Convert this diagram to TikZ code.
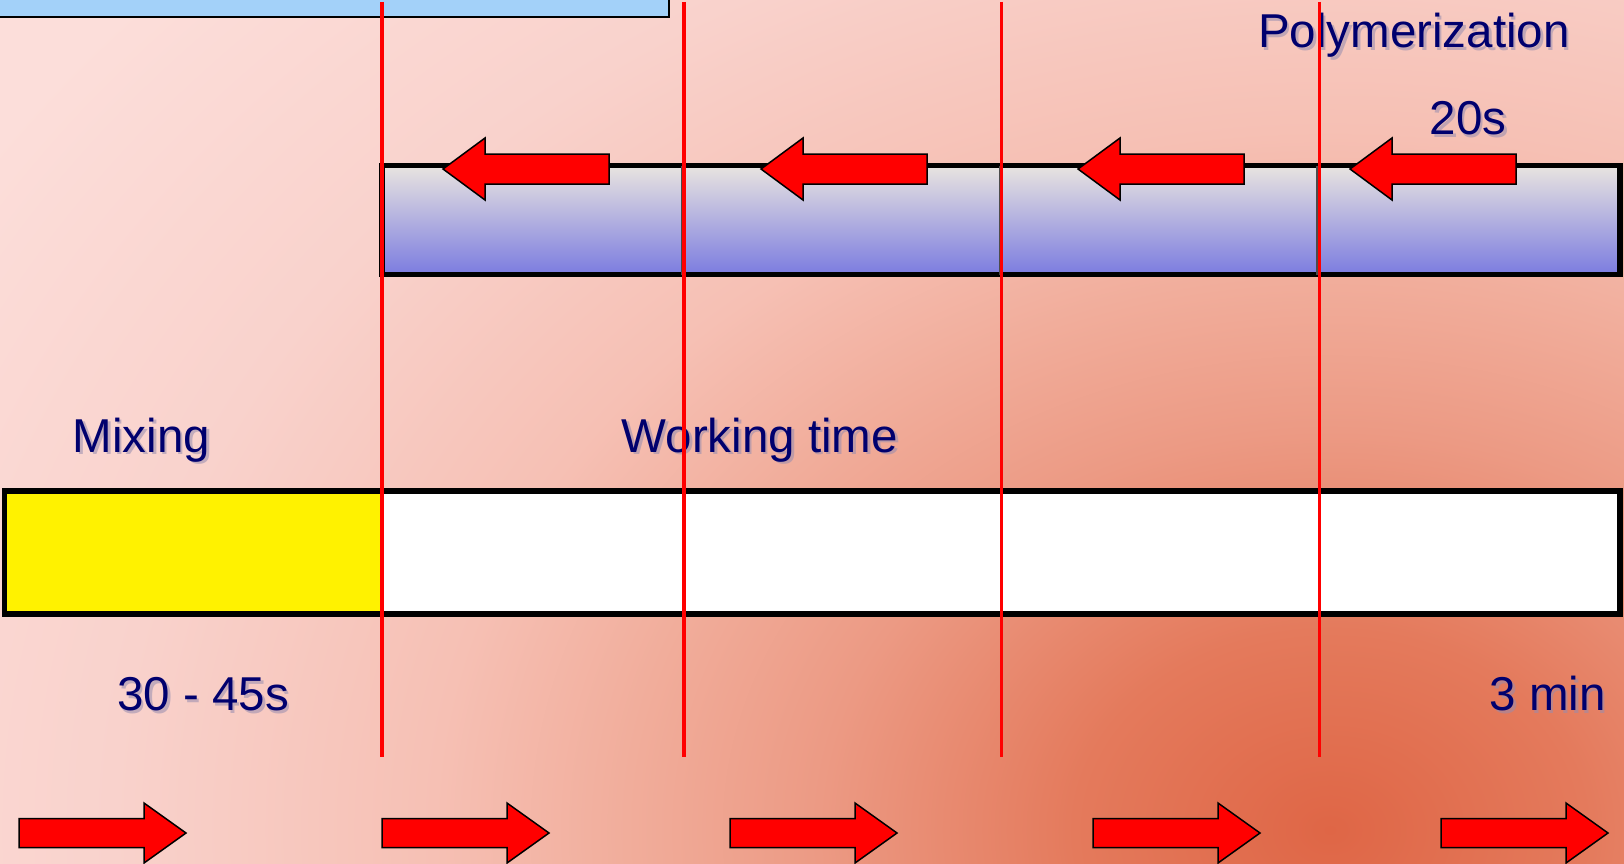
\documentclass[tikz,border=0pt]{standalone}
\usepackage{fontspec}
\setmainfont{Liberation Sans}
\definecolor{bgA}{HTML}{DF6646}
\definecolor{bgB}{HTML}{E47A5C}
\definecolor{bgC}{HTML}{EC9A84}
\definecolor{bgD}{HTML}{F1AD9B}
\definecolor{bgE}{HTML}{F6C0B4}
\definecolor{bgF}{HTML}{F9D2CC}
\definecolor{bgG}{HTML}{FCDEDA}
\definecolor{navytxt}{RGB}{0,0,110}
\definecolor{shadowtxt}{RGB}{150,140,175}
\definecolor{boxblue}{HTML}{A3D1F9}
\definecolor{barTop}{HTML}{E8E4E0}
\definecolor{barMid}{HTML}{C4C0E2}
\definecolor{barBot}{HTML}{7C7CE0}
\pgfdeclareradialshading{bgshade}{\pgfpointorigin}{color(0bp)=(bgA); color(4bp)=(bgB); color(8bp)=(bgC); color(11bp)=(bgD); color(14bp)=(bgE); color(19bp)=(bgF); color(25bp)=(bgG); color(50bp)=(bgG)}
\usetikzlibrary{calc}
\tikzset{
  arrowshape/.style={fill=red, draw=black, line width=1.5pt, line join=miter},
  barbox/.style={draw=black, line width=5.5pt, rectangle, inner sep=0pt, outer sep=0pt, anchor=north west},
  timeline/.style={draw=red, line width=3.2pt},
  divider/.style={draw=black!70, line width=1.5pt},
  lbl/.style={text=navytxt, inner sep=0pt, font=\fontsize{47.5}{57}\selectfont},
  lblsh/.style={lbl, text=shadowtxt, text opacity=0.55},
  pics/rarr/.style={code={\draw[arrowshape] (0,-14.5) -- (125,-14.5) -- (125,-30) -- (167,0) -- (125,30) -- (125,14.5) -- (0,14.5) -- cycle;}},
  pics/larr/.style={code={\draw[arrowshape] (0,0) -- (42,-31) -- (42,-15) -- (166,-15) -- (166,15) -- (42,15) -- (42,31) -- cycle;}}
}
\newcommand{\shtext}[4]{%
  \node[lblsh, anchor=#3] (#1-sh) at ($(#2)+(2.5,2.5)$) {#4};
  \node[lbl, anchor=#3] (#1) at (#2) {#4};}
\begin{document}
\begin{tikzpicture}[x=1pt, y=-1pt]
\useasboundingbox (0,0) rectangle (1624,864);
% background
\fill[bgG] (0,0) rectangle (1624,864);
\begin{scope}
  \clip (0,0) rectangle (1624,864);
  \shade[shading=bgshade] (1330,830) ellipse [x radius=1600pt, y radius=1250pt];
\end{scope}
% top-left box (cut off)
\draw[fill=boxblue, line width=2.5pt] (-5,-5) rectangle (669,17);
% top bar
\node[barbox, minimum width=1238pt, minimum height=109pt, top color=barTop, middle color=barMid, bottom color=barBot] (topbar) at (382,165.5) {};
\draw[divider] (682,165.5) -- (682,274.5);
\draw[divider] (999.5,165.5) -- (999.5,274.5);
\draw[divider] (1317,165.5) -- (1317,274.5);
% bottom bar
\node[barbox, minimum width=1615.5pt, minimum height=123pt, fill=white, draw=none] (botbar) at (4.5,491) {};
\fill[yellow] (4.5,491) rectangle (382,614);
\draw[black, line width=5.5pt] (botbar.north west) rectangle (botbar.south east);
% top arrows
\pic at (443,169) {larr};
\pic at (761,169) {larr};
\pic at (1078,169) {larr};
\pic at (1350,169) {larr};
% bottom arrows
\pic at (19,833) {rarr};
\pic at (382,833) {rarr};
\pic at (730,833) {rarr};
\pic at (1093,833) {rarr};
\pic at (1441,833) {rarr};
% labels
\shtext{poly}{1258,48}{base west}{Polymerization}
\shtext{twenty}{1468,135}{base}{20s}
\shtext{mix}{72.5,452}{base west}{Mixing}
\shtext{work}{621.5,452}{base west}{Working time}
\shtext{mixt}{117,710.5}{base west}{30 - 45s}
\shtext{three}{1606,710.5}{base east}{3 min}
% time lines
\foreach \xx in {382,684,1001.5,1319.5} {\draw[timeline] (\xx,2) -- (\xx,757);}
\end{tikzpicture}
\end{document}
